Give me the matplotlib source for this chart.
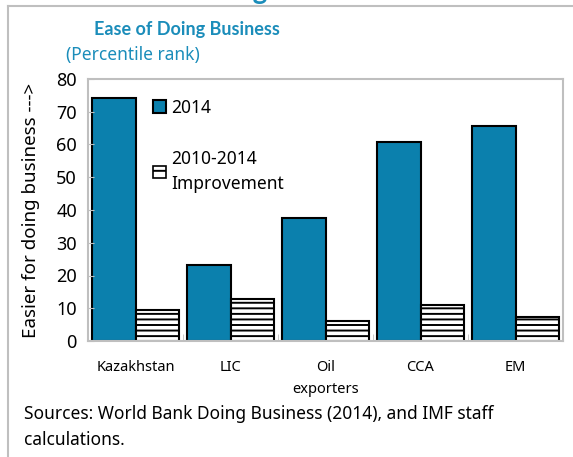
import numpy as np
import matplotlib.pyplot as plt
from matplotlib.patches import Patch
from matplotlib.lines import Line2D

# datos
categorias = ["Kazakhstan", "LIC", "Oil\nexporters", "CCA", "EM"]
rank_2014 = [74.1, 23.2, 37.5, 60.8, 65.7]
mejora_2010_2014 = [9.5, 12.7, 6.2, 11.1, 7.3]

azul = "#0B80AD"
teal = "#1B8DBA"
gris = "#BFBFBF"

plt.rcParams['font.family'] = ['Noto Sans', 'DejaVu Sans']
plt.rcParams['hatch.linewidth'] = 1.4

fig = plt.figure(figsize=(5.73, 4.57), dpi=100)
ax = fig.add_axes([88/573, 1 - 341/457, 475/573, 262/457])

x = np.arange(len(categorias))
w = 0.46
ax.bar(x - w/2, rank_2014, w, color=azul, edgecolor="black", linewidth=1.5, label="2014")
ax.bar(x + w/2, mejora_2010_2014, w, color="white", edgecolor="black", linewidth=1.5,
       hatch="---", label="2010-2014\nImprovement")

ax.set_xlim(-0.5, 4.5)
ax.set_ylim(0, 80)
ax.set_yticks(range(0, 81, 10))
ax.tick_params(axis="y", direction="in", length=4, color=gris, labelsize=13, pad=8)
ax.set_xticks(x)
ax.set_xticklabels(categorias, fontsize=10.5, linespacing=1.6)
ax.tick_params(axis="x", length=0, pad=14)
ax.set_xticks(np.arange(-0.5, 4.6, 1), minor=True)
ax.tick_params(axis="x", which="minor", direction="in", length=5, color=gris)
for s in ax.spines.values():
    s.set_color(gris)
    s.set_linewidth(1.5)

ax.set_ylabel("Easier for doing business --->", fontsize=13.5)
ax.yaxis.set_label_coords(-48/475, 0.5)

handles = [Patch(facecolor=azul, edgecolor="black", linewidth=1.5),
           Patch(facecolor="white", edgecolor="black", linewidth=1.2, hatch="--")]
leg = ax.legend(handles, ["2014", "2010-2014\nImprovement"], loc="upper left",
                bbox_to_anchor=(0.103, 0.985), frameon=False, fontsize=12.5,
                handlelength=0.75, handleheight=0.75, handletextpad=0.3, labelspacing=1.9)
for t in leg.get_texts():
    t.set_linespacing(1.5)

fig.text(94/573, 1 - 30/457, "Ease of Doing Business", color=teal, fontsize=13,
         fontweight="bold", va="center", family=["Lato", "DejaVu Sans"])
fig.text(66/573, 1 - 55/457, "(Percentile rank)", color=teal, fontsize=12.5, va="center")
fig.text(268/573, 1 + 1/457, "ing", color=teal, fontsize=20, fontweight="bold",
         ha="right", va="baseline", family=["Lato", "DejaVu Sans"])

fig.text(24/573, 1 - 414/457, "Sources: World Bank Doing Business (2014), and IMF staff",
         fontsize=12.5, va="center")
fig.text(24/573, 1 - 440/457, "calculations.", fontsize=12.5, va="center")

# marco exterior
fig.add_artist(Line2D([8/573, 8/573], [0, 1 - 6/457], color=gris, lw=1.5, transform=fig.transFigure))
fig.add_artist(Line2D([8/573, 1], [1 - 6/457, 1 - 6/457], color=gris, lw=1.5, transform=fig.transFigure))

fig.savefig("out.png", dpi=100)
